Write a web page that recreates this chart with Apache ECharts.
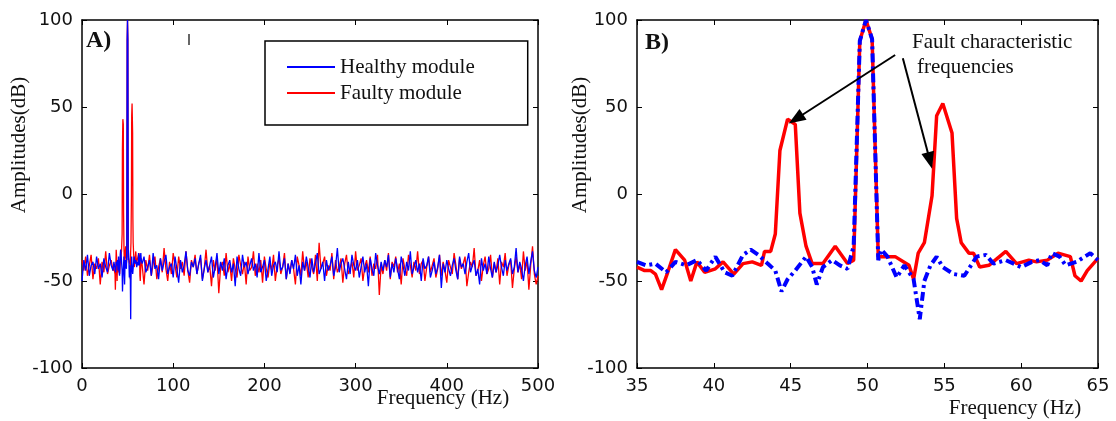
<!DOCTYPE html>
<html>
<head>
<meta charset="utf-8">
<script src="https://cdn.jsdelivr.net/npm/echarts@6/dist/echarts.min.js"></script>
<style>html,body{margin:0;padding:0;background:#fff}#c{width:1116px;height:421px}</style>
</head>
<body>
<div id="c"></div>
<script>
// ---- Panel A noise (2 Hz steps) ----
const lowStartA = 0, highStartA = 66, stepA = 2;
const redLowA = [-38,-44,-36,-47,-41,-35,-49,-40,-43,-37,-52,-39,-45,-33,-46,-41,-38,-44];
const blueLowA = [-50,-38,-44,-35,-47,-41,-39,-46,-36,-43,-40,-48,-37,-42,-45,-34,-41,-44];
const redHighA = [
-41,-52,-38,-44,-35,-47,-40,-36,-49,-42,
-37,-45,-31,-43,-50,-39,-46,-34,-41,-48,
-36,-43,-39,-47,-33,-44,-51,-38,-42,-35,
-46,-40,-37,-49,-43,-32,-45,-41,-53,-38,
-44,-36,-57,-42,-39,-47,-34,-45,-40,-50,
-37,-43,-48,-35,-41,-46,-39,-52,-36,-44,
-42,-33,-47,-40,-45,-38,-51,-36,-43,-48,
-39,-44,-35,-50,-41,-37,-46,-42,-34,-49,
-40,-45,-38,-43,-52,-36,-41,-47,-33,-44,
-39,-48,-37,-42,-46,-35,-50,-28,-43,-40,
-36,-47,-41,-44,-34,-49,-38,-45,-42,-37,
-51,-40,-35,-46,-43,-39,-48,-33,-44,-41,
-37,-50,-42,-38,-45,-36,-47,-40,-43,-35,
-58,-41,-46,-38,-44,-34,-49,-39,-42,-36,
-45,-40,-52,-37,-43,-47,-35,-41,-48,-39,
-44,-33,-46,-40,-38,-50,-42,-36,-45,-41,
-37,-48,-43,-35,-47,-39,-44,-51,-38,-42,
-46,-34,-41,-49,-37,-43,-40,-36,-53,-45,
-39,-42,-31,-47,-44,-38,-50,-41,-36,-46,
-43,-35,-48,-40,-45,-37,-52,-39,-42,-34,
-47,-41,-38,-54,-43,-36,-45,-40,-49,-33,
-44,-38,-55,-41,-30,-46,-52,-47];
const blueHighA = [
-40,-36,-45,-42,-38,-47,-34,-43,-41,-49,
-37,-44,-39,-35,-46,-42,-40,-48,-36,-43,
-51,-38,-45,-41,-33,-44,-47,-39,-42,-37,
-46,-40,-35,-50,-43,-38,-45,-41,-36,-48,
-42,-34,-46,-39,-44,-37,-49,-41,-38,-45,
-40,-53,-36,-43,-47,-35,-42,-39,-46,-41,
-37,-44,-40,-48,-34,-45,-42,-38,-50,-43,
-36,-47,-41,-39,-45,-33,-44,-42,-37,-49,
-40,-46,-38,-43,-35,-47,-41,-52,-39,-44,
-36,-42,-48,-37,-45,-40,-34,-46,-43,-39,
-50,-38,-44,-41,-36,-47,-42,-31,-45,-40,
-37,-43,-49,-39,-46,-35,-41,-44,-38,-48,
-42,-36,-45,-40,-53,-37,-43,-47,-34,-41,
-46,-39,-44,-38,-42,-35,-48,-40,-45,-37,
-43,-49,-36,-41,-47,-39,-44,-33,-46,-42,
-38,-45,-40,-50,-37,-43,-41,-36,-48,-44,
-39,-46,-42,-35,-54,-40,-45,-38,-43,-47,
-41,-37,-44,-49,-36,-42,-40,-46,-39,-34,
-45,-41,-38,-47,-43,-52,-37,-44,-40,-46,
-36,-43,-48,-39,-45,-41,-35,-42,-47,-38,
-44,-40,-37,-46,-42,-31,-45,-39,-43,-50,
-41,-36,-46,-39,-33,-44,-48,-42];

// ---- Panel B detail (35-65 Hz) ----
const redFreqB = [35,35.5,35.9,36.2,36.6,37.0,37.5,38.1,38.5,38.9,39.4,40.1,40.6,41.3,41.9,42.5,43.1,43.3,43.7,44.0,44.3,44.8,45.3,45.6,46.0,46.4,47.1,47.9,48.7,49.1,49.5,49.9,50.3,50.7,50.9,51.8,52.7,53.0,53.3,53.7,54.2,54.5,54.9,55.5,55.8,56.1,56.6,56.9,57.3,57.9,59.0,59.7,60.5,61.0,61.7,62.4,63.2,63.5,63.9,64.3,65.0];
const redAmpB = [-42,-44,-44,-46,-55,-45,-32,-38,-50,-39,-45,-43,-39,-46,-40,-39,-41,-33,-33,-23,25,43,40,-11,-30,-40,-40,-30,-40,-38,88,100,89,-36,-36,-36,-41,-49,-34,-28,-1,45,52,35,-14,-28,-34,-34,-42,-41,-33,-40,-38,-39,-38,-34,-36,-47,-50,-44,-37];
const blueFreqB = [35.0,35.6,36.2,36.9,37.5,38.2,38.9,39.5,40.1,40.7,41.2,41.9,42.4,42.9,43.5,44.0,44.4,44.8,45.3,46.0,46.4,46.7,47.1,47.7,48.2,48.7,49.1,49.5,49.9,50.3,50.7,50.9,51.3,51.9,52.4,53.0,53.4,53.7,54.1,54.5,54.9,55.6,56.3,57.1,57.7,58.2,59.0,60.0,60.7,61.2,61.7,62.0,62.5,62.9,63.6,64.5,65.0];
const blueAmpB = [-39,-41,-40,-45,-39,-41,-38,-44,-36,-45,-47,-35,-32,-35,-40,-44,-56,-49,-44,-36,-42,-52,-42,-38,-41,-43,-30,88,100,89,-38,-32,-36,-48,-41,-49,-72,-50,-41,-36,-42,-46,-47,-36,-35,-40,-38,-42,-39,-38,-41,-34,-36,-41,-39,-34,-38];

const xTicksA = {min:0, max:500, interval:100};
const xTicksB = {min:35, max:65, interval:5};
const yTicks = {min:-100, max:100, interval:50};
const seriesNames = ['Healthy module','Faulty module'];

function pairs(fr, amp){ return fr.map((f,i)=>[f, amp[i]]); }
function buildA(low, detailF, detailA, high){
  const out = [];
  low.forEach((v,i)=>out.push([lowStartA + i*stepA, v]));
  detailF.forEach((f,i)=>out.push([f, detailA[i]]));
  high.forEach((v,i)=>out.push([highStartA + i*stepA, v]));
  return out;
}
const redA = buildA(redLowA, redFreqB, redAmpB, redHighA);
const blueA = buildA(blueLowA, blueFreqB, blueAmpB, blueHighA);

const chart = echarts.init(document.getElementById('c'), null, {renderer:'canvas'});
const axisLine = {show:true, onZero:false, lineStyle:{color:'#000', width:1.5}};
const tickIn = {show:true, inside:true, length:5, lineStyle:{color:'#000', width:1}};
const lab = {fontFamily:'DejaVu Sans', fontSize:18, color:'#111', margin:9};
function xAx(grid, t, pos, showLab){
  return {type:'value', gridIndex:grid, position:pos, min:t.min, max:t.max, interval:t.interval,
    axisLine, axisTick:tickIn, axisLabel: showLab ? lab : {show:false}, splitLine:{show:false}};
}
function yAx(grid, pos, showLab){
  return {type:'value', gridIndex:grid, position:pos, min:yTicks.min, max:yTicks.max, interval:yTicks.interval,
    axisLine, axisTick:tickIn, axisLabel: showLab ? lab : {show:false}, splitLine:{show:false}};
}
const serif = 'Liberation Serif';
function txt(x,y,text,size,opt){
  opt = opt || {};
  return {type:'text', x:x, y:y, rotation:opt.rot||0, silent:true, z:100,
    style:{text:text, font:(opt.bold?'bold ':'')+size+'px "'+serif+'"', fill:'#111',
      textAlign:opt.align||'center', textVerticalAlign:'middle', align:opt.align||'center', verticalAlign:'middle'}};
}

chart.setOption({
  animation:false,
  backgroundColor:'#fff',
  grid:[
    {left:82, top:20, width:456, height:348},
    {left:637, top:20, width:461, height:348}
  ],
  xAxis:[ xAx(0,xTicksA,'bottom',true), xAx(0,xTicksA,'top',false), xAx(1,xTicksB,'bottom',true), xAx(1,xTicksB,'top',false) ],
  yAxis:[ yAx(0,'left',true), yAx(0,'right',false), yAx(1,'left',true), yAx(1,'right',false) ],
  legend:{
    data:seriesNames, left:265, top:41, orient:'vertical',
    padding:[15,53,21,22], itemGap:4, itemWidth:48, itemHeight:2, icon:'rect',
    borderColor:'#000', borderWidth:1.5, backgroundColor:'#fff',
    textStyle:{fontFamily:serif, fontSize:21, color:'#111', lineHeight:22},
    selectedMode:false
  },
  graphic:[
    txt(86,41,'A)',24,{bold:true, align:'left'}),
    txt(645,43,'B)',24,{bold:true, align:'left'}),
    txt(19,145,'Amplitudes(dB)',21,{rot:Math.PI/2}),
    txt(580,145,'Amplitudes(dB)',21,{rot:Math.PI/2}),
    txt(443,398,'Frequency (Hz)',21),
    txt(1015,408,'Frequency (Hz)',21),
    txt(912,42,'Fault characteristic',21,{align:'left'}),
    txt(917,67,'frequencies',21,{align:'left'}),
    {type:'line', silent:true, shape:{x1:189,y1:34,x2:189,y2:45}, style:{stroke:'#000', lineWidth:1.2}}
  ],
  series:[
    {name:'Healthy module', type:'line', xAxisIndex:0, yAxisIndex:0, data:[], symbol:'none', color:'#0000ff', lineStyle:{width:1.2}},
    {name:'Faulty module', type:'line', xAxisIndex:0, yAxisIndex:0, data:redA, symbol:'none', color:'#ff0000', lineStyle:{width:1.3,color:'#ff0000'}, z:2},
    {name:'Healthy module', type:'line', xAxisIndex:0, yAxisIndex:0, data:blueA, symbol:'none', color:'#0000ff', lineStyle:{width:1.3,color:'#0000ff'}, z:3},
    {name:'Faulty module', type:'line', xAxisIndex:2, yAxisIndex:2, data:pairs(redFreqB, redAmpB), symbol:'none', color:'#ff0000', lineStyle:{width:3.5,color:'#ff0000'}, z:2,
      markLine:{silent:true, animation:false, label:{show:false},
        lineStyle:{color:'#000', width:2, type:'solid'}, symbolSize:[13,17],
        data:[
          [{coord:[51.8,79.9], symbol:'none'},{coord:[45.34,43.1], symbol:'triangle'}],
          [{coord:[52.3,78], symbol:'none'},{coord:[54.06,19.2], symbol:'triangle'}]
        ]}},
    {name:'Healthy module', type:'line', xAxisIndex:2, yAxisIndex:2, data:pairs(blueFreqB, blueAmpB), symbol:'none', color:'#0000ff', lineStyle:{width:4,color:'#0000ff',type:[9,4,3,4]}, z:3}
  ]
});
</script>
</body>
</html>
